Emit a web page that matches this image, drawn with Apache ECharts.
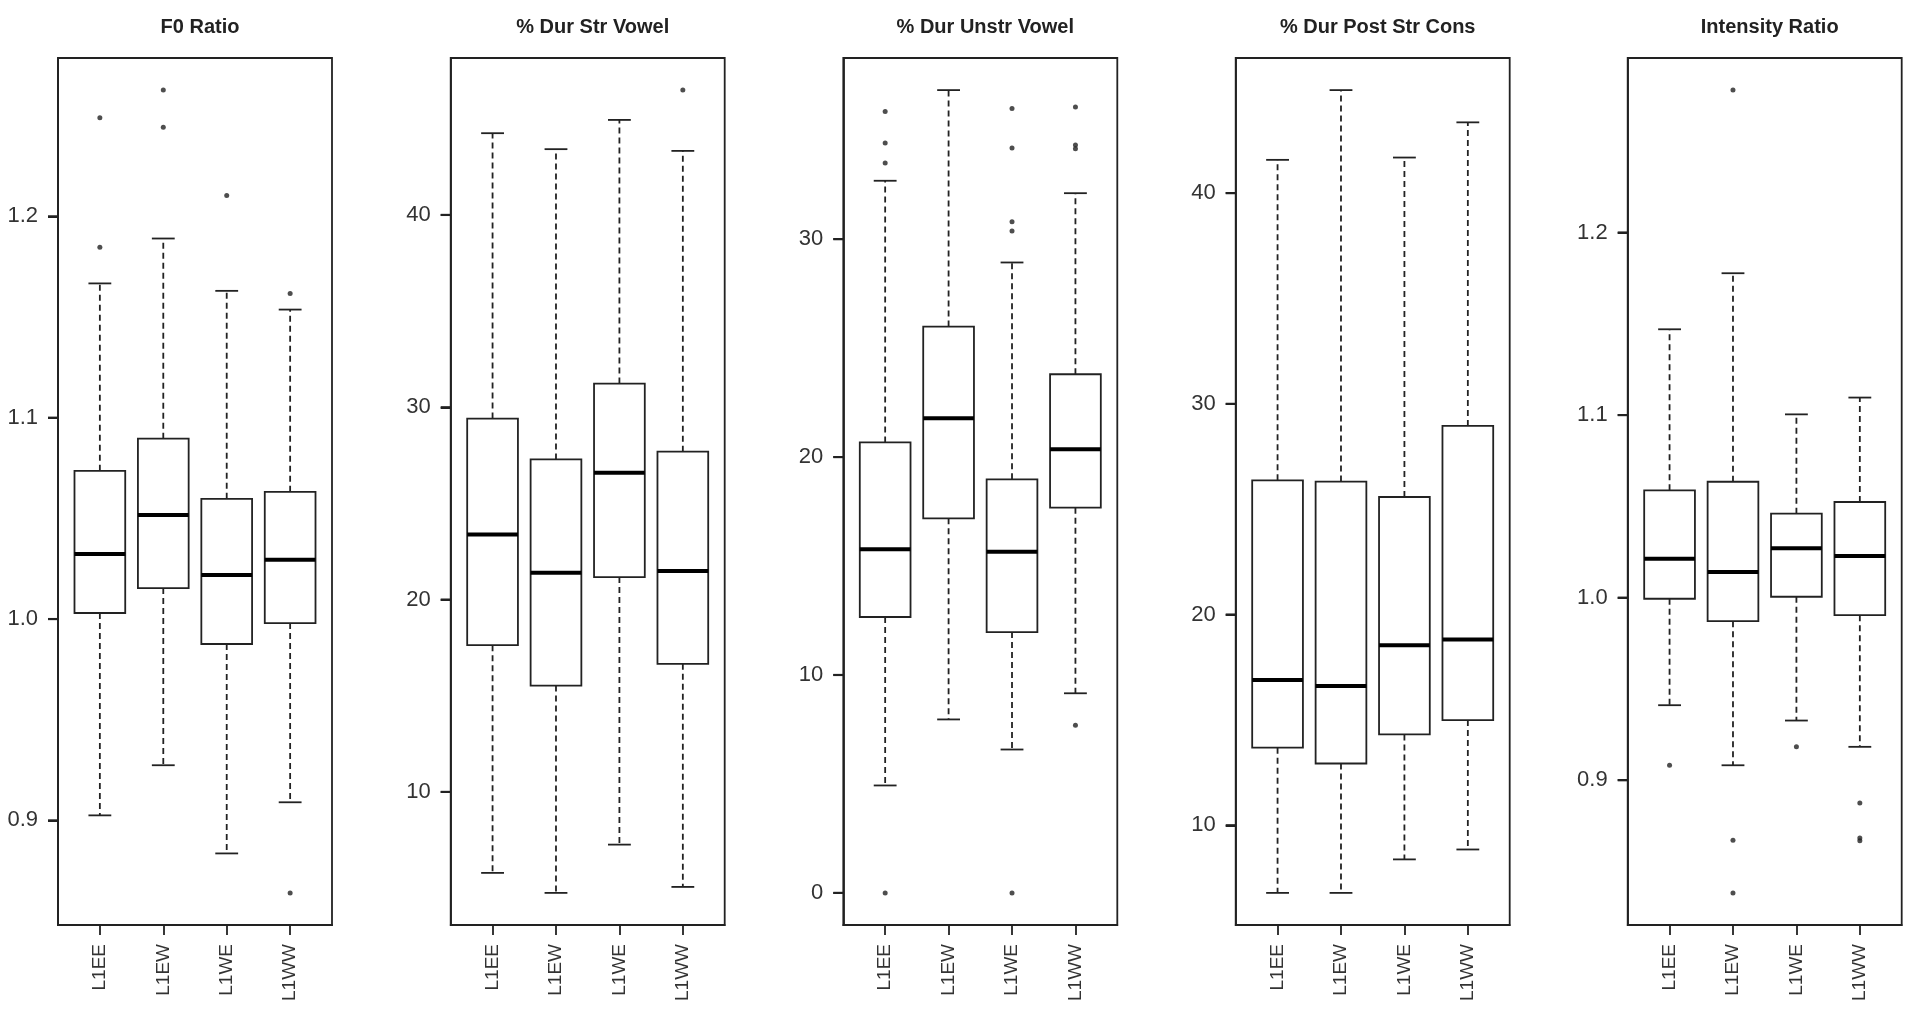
<!DOCTYPE html>
<html>
<head>
<meta charset="utf-8">
<title>Prosodic measures by group</title>
<script src="https://cdn.jsdelivr.net/npm/echarts@6/dist/echarts.min.js"></script>
<style>
  html, body { margin: 0; padding: 0; background: #fff; }
  #chart { width: 1920px; height: 1021px; }
</style>
</head>
<body>
<div id="chart"></div>
<script>
// groups on the x axis of every panel
var categories = ['L1EE', 'L1EW', 'L1WE', 'L1WW'];

var panelTitles = ['F0 Ratio', '% Dur Str Vowel', '% Dur Unstr Vowel', '% Dur Post Str Cons', 'Intensity Ratio'];

// box stats per group: [lower whisker, Q1, median, Q3, upper whisker]
var f0Box = [
    [0.9025, 1.003, 1.0323, 1.0736, 1.1667],
    [0.9274, 1.0154, 1.0517, 1.0896, 1.189],
    [0.8836, 0.9876, 1.0219, 1.0597, 1.163],
    [0.909, 0.998, 1.0294, 1.0632, 1.1537]
];
var strVowelBox = [
    [5.79, 17.63, 23.39, 29.41, 44.25],
    [4.75, 15.53, 21.39, 27.29, 43.42],
    [7.26, 21.17, 26.60, 31.23, 44.94],
    [5.06, 16.66, 21.48, 27.69, 43.33]
];
var unstrVowelBox = [
    [4.93, 12.66, 15.77, 20.67, 32.68],
    [7.96, 17.19, 21.78, 25.99, 36.84],
    [6.58, 11.97, 15.66, 18.98, 28.93],
    [9.16, 17.68, 20.36, 23.80, 32.11]
];
var postConsBox = [
    [6.79, 13.68, 16.89, 26.37, 41.58],
    [6.79, 12.93, 16.61, 26.31, 44.89],
    [8.38, 14.31, 18.54, 25.58, 41.69],
    [8.85, 14.99, 18.82, 28.95, 43.36]
];
var intensityBox = [
    [0.9411, 0.9994, 1.0213, 1.0588, 1.147],
    [0.9082, 0.9871, 1.014, 1.0635, 1.1777],
    [0.9327, 1.0005, 1.027, 1.046, 1.1004],
    [0.9183, 0.9904, 1.0228, 1.0524, 1.1096]
];

// outliers: [group index (0-based), value]
var f0Out = [[0, 1.249], [0, 1.1846], [1, 1.2627], [1, 1.2443], [2, 1.2104], [3, 1.1617], [3, 0.864]];
var strVowelOut = [[3, 46.49]];
var unstrVowelOut = [[0, 35.86], [0, 34.41], [0, 33.49], [0, 0.0],
    [2, 36.0], [2, 34.18], [2, 30.80], [2, 30.38], [2, 0.0],
    [3, 36.07], [3, 34.32], [3, 34.15], [3, 7.69]];
var postConsOut = [];
var intensityOut = [[0, 0.9082], [1, 1.278], [1, 0.8672], [1, 0.8383], [2, 0.9183], [3, 0.8876], [3, 0.8684], [3, 0.8668]];

// y tick labels per panel
var f0Ticks = [0.9, 1.0, 1.1, 1.2];
var strVowelTicks = [10, 20, 30, 40];
var unstrVowelTicks = [0, 10, 20, 30];
var postConsTicks = [10, 20, 30, 40];
var intensityTicks = [0.9, 1.0, 1.1, 1.2];

var panels = [
    { box: f0Box, out: f0Out, ticks: f0Ticks, dec: 1 },
    { box: strVowelBox, out: strVowelOut, ticks: strVowelTicks, dec: 0 },
    { box: unstrVowelBox, out: unstrVowelOut, ticks: unstrVowelTicks, dec: 0 },
    { box: postConsBox, out: postConsOut, ticks: postConsTicks, dec: 0 },
    { box: intensityBox, out: intensityOut, ticks: intensityTicks, dec: 1 }
];

var INK = '#222';
var FONT = '"Liberation Sans", Arial, sans-serif';
var X_MIN = 0.34, X_MAX = 4.66;
var gridLefts = [58, 450.7, 843.3, 1235.7, 1627.7];
var gridW = 274, gridTop = 58, gridH = 867;

// R-style range: data extent padded by 4% each side
function yRange(p) {
    var lo = Infinity, hi = -Infinity;
    p.box.forEach(function (b) { lo = Math.min(lo, b[0]); hi = Math.max(hi, b[4]); });
    p.out.forEach(function (o) { lo = Math.min(lo, o[1]); hi = Math.max(hi, o[1]); });
    var pad = (hi - lo) * 0.04;
    return [lo - pad, hi + pad];
}

function renderBox(params, api) {
    var x = api.value(0);
    var lo = api.coord([x, api.value(1)]);
    var q1 = api.coord([x, api.value(2)]);
    var med = api.coord([x, api.value(3)]);
    var q3 = api.coord([x, api.value(4)]);
    var hi = api.coord([x, api.value(5)]);
    var bw = api.size([0.8, 0])[0];
    var cw = api.size([0.36, 0])[0];
    var cx = lo[0];
    var dash = { stroke: INK, lineWidth: 1.8, lineDash: [6, 4] };
    var solid = { stroke: INK, lineWidth: 1.8 };
    return {
        type: 'group',
        children: [
            { type: 'line', shape: { x1: cx, y1: q3[1], x2: cx, y2: hi[1] }, style: dash },
            { type: 'line', shape: { x1: cx, y1: q1[1], x2: cx, y2: lo[1] }, style: dash },
            { type: 'line', shape: { x1: cx - cw / 2, y1: hi[1], x2: cx + cw / 2, y2: hi[1] }, style: solid },
            { type: 'line', shape: { x1: cx - cw / 2, y1: lo[1], x2: cx + cw / 2, y2: lo[1] }, style: solid },
            { type: 'rect', shape: { x: cx - bw / 2, y: q3[1], width: bw, height: q1[1] - q3[1] },
              style: { fill: '#fff', stroke: INK, lineWidth: 1.8 } },
            { type: 'line', shape: { x1: cx - bw / 2, y1: med[1], x2: cx + bw / 2, y2: med[1] },
              style: { stroke: '#000', lineWidth: 4 } }
        ]
    };
}

var option = { animation: false, title: [], grid: [], xAxis: [], yAxis: [], series: [] };

panels.forEach(function (p, i) {
    var r = yRange(p);
    option.title.push({
        text: panelTitles[i],
        left: gridLefts[i] + gridW / 2,
        top: 12,
        textAlign: 'center',
        textStyle: { fontFamily: FONT, fontSize: 20, fontWeight: 'bold', color: INK }
    });
    option.grid.push({
        left: gridLefts[i], top: gridTop, width: gridW, height: gridH,
        show: true, borderColor: INK, borderWidth: 1.8
    });
    option.xAxis.push({
        type: 'value', gridIndex: i, min: X_MIN, max: X_MAX, position: 'bottom',
        axisLine: { show: true, onZero: false, lineStyle: { color: INK, width: 1.8 } },
        splitLine: { show: false },
        axisTick: { show: true, inside: false, length: 10, customValues: [1, 2, 3, 4], lineStyle: { color: INK, width: 1.8 } },
        axisLabel: {
            show: true, customValues: [1, 2, 3, 4], rotate: 90, margin: 19,
            fontFamily: FONT, fontSize: 19, color: '#333',
            formatter: function (v) { return categories[Math.round(v) - 1]; }
        }
    });
    option.yAxis.push({
        type: 'value', gridIndex: i, min: r[0], max: r[1], position: 'left',
        axisLine: { show: true, onZero: false, lineStyle: { color: INK, width: 1.8 } },
        splitLine: { show: false },
        axisTick: { show: true, inside: false, length: 10, customValues: p.ticks, lineStyle: { color: INK, width: 2 } },
        axisLabel: {
            show: true, customValues: p.ticks, margin: 20,
            fontFamily: FONT, fontSize: 22, color: '#333',
            formatter: (function (d) { return function (v) { return Number(v).toFixed(d); }; })(p.dec)
        }
    });
    option.series.push({
        type: 'custom', xAxisIndex: i, yAxisIndex: i,
        renderItem: renderBox,
        encode: { x: 0, y: [1, 2, 3, 4, 5] },
        data: p.box.map(function (b, k) { return [k + 1].concat(b); })
    });
    option.series.push({
        type: 'scatter', xAxisIndex: i, yAxisIndex: i,
        symbol: 'circle', symbolSize: 5,
        itemStyle: { color: INK },
        data: p.out.map(function (o) { return [o[0] + 1, o[1]]; })
    });
});

var chart = echarts.init(document.getElementById('chart'));
chart.setOption(option);

// y ticks placed through each panel's own scale, drawn on top
var tickMarks = [];
panels.forEach(function (p, i) {
    p.ticks.forEach(function (t) {
        var pt = chart.convertToPixel({ gridIndex: i }, [X_MIN, t]);
        tickMarks.push({
            type: 'line', z: 100, silent: true,
            shape: { x1: pt[0] - 10, y1: pt[1], x2: pt[0], y2: pt[1] },
            style: { stroke: INK, lineWidth: 2.2 }
        });
    });
});
chart.setOption({ graphic: { elements: tickMarks } });
</script>
</body>
</html>
